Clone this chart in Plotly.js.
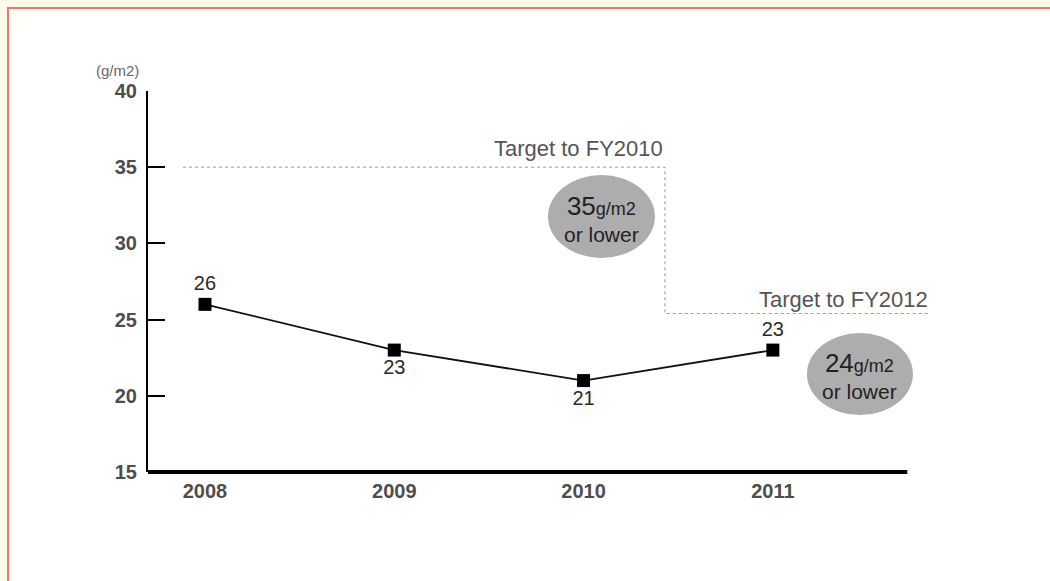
<!DOCTYPE html>
<html>
<head>
<meta charset="utf-8">
<script src="https://cdn.plot.ly/plotly-3.0.1.min.js"></script>
<style>
  html, body { margin: 0; padding: 0; background: #fffbea; }
  #frame {
    position: absolute; left: 7px; top: 7px; right: 0; bottom: 0;
    background: #ffffff;
    border-left: 2px solid #e6786c; border-top: 2px solid #e6786c;
  }
  #chart { position: absolute; left: 0; top: 0; width: 1050px; height: 581px; }
</style>
</head>
<body>
<div id="frame"></div>
<div id="chart"></div>
<script>
// Waste per unit area, by fiscal year
const years = ['2008', '2009', '2010', '2011'];
const values = [26, 23, 21, 23];
const labelSides = ['top center', 'bottom center', 'bottom center', 'top center'];

// Target guide (step line): FY2010 level, then FY2012 level
const targetStepX = [-0.116, 2.43, 2.43, 3.83];
const targetStepY = [35, 35, 25.4, 25.4];
const targetNames = ['Target to FY2010', 'Target to FY2012'];
const targetValues = [35, 24];

const yTicks = [15, 20, 25, 30, 35, 40];
const xIdx = years.map((_, i) => i);

const FONT = 'Liberation Sans, Arial, sans-serif';

const traces = [
  {
    x: targetStepX, y: targetStepY, mode: 'lines', type: 'scatter',
    line: { color: '#999999', width: 1, dash: 'dot' },
    hoverinfo: 'skip', showlegend: false
  },
  {
    x: xIdx, y: values, mode: 'lines+markers+text', type: 'scatter',
    text: values.map(String), textposition: labelSides,
    textfont: { family: FONT, size: 20, color: '#2a2a2a' },
    line: { color: '#111', width: 1.8 },
    marker: { symbol: 'square', size: 13, color: '#000' },
    cliponaxis: false, showlegend: false
  }
];

const bubbleText = v =>
  '<span style="font-size:26px">' + v + '</span><span style="font-size:18px">g/m2</span><br>or lower';

const layout = {
  width: 1050, height: 581,
  margin: { l: 148, r: 110, t: 91, b: 109 },
  paper_bgcolor: 'rgba(0,0,0,0)',
  plot_bgcolor: 'rgba(0,0,0,0)',
  showlegend: false,
  xaxis: {
    range: [-0.3011, 3.883],
    tickvals: xIdx, ticktext: years,
    showgrid: false, zeroline: false, showline: false, ticks: '',
    ticklabelstandoff: 5,
    tickfont: { family: FONT, size: 20, color: '#4d4d4d', weight: 'bold' }
  },
  yaxis: {
    range: [15, 40],
    tickvals: yTicks,
    showgrid: false, zeroline: false,
    showline: true, linecolor: '#000', linewidth: 2,
    ticks: 'inside', ticklen: 17, tickwidth: 2, tickcolor: '#000',
    ticklabelstandoff: 5,
    tickfont: { family: FONT, size: 20, color: '#4d4d4d', weight: 'bold' }
  },
  shapes: [
    // x axis baseline
    { type: 'line', xref: 'x', yref: 'paper', x0: -0.3011, x1: 3.71, y0: 0, y1: 0,
      line: { color: '#000', width: 4 } },
    // target value bubbles
    { type: 'circle', xref: 'x', yref: 'y', x0: 1.812, x1: 2.377, y0: 29.04, y1: 34.49,
      fillcolor: '#adadad', line: { width: 0 } },
    { type: 'circle', xref: 'x', yref: 'y', x0: 3.180, x1: 3.740, y0: 18.74, y1: 24.12,
      fillcolor: '#adadad', line: { width: 0 } }
  ],
  annotations: [
    { xref: 'paper', yref: 'paper', x: -0.039, y: 1.055, xanchor: 'center', yanchor: 'middle',
      text: '(g/m2)', showarrow: false,
      font: { family: FONT, size: 15, color: '#666' } },
    { xref: 'x', yref: 'y', x: 2.43, y: 36.26, xanchor: 'right', yanchor: 'middle',
      text: targetNames[0], showarrow: false,
      font: { family: FONT, size: 22, color: '#555' } },
    { xref: 'x', yref: 'y', x: 3.83, y: 26.29, xanchor: 'right', yanchor: 'middle',
      text: targetNames[1], showarrow: false,
      font: { family: FONT, size: 22, color: '#555' } },
    { xref: 'x', yref: 'y', x: 2.094, y: 31.65, xanchor: 'center', yanchor: 'middle',
      text: bubbleText(targetValues[0]), showarrow: false,
      align: 'center', font: { family: FONT, size: 21, color: '#222' } },
    { xref: 'x', yref: 'y', x: 3.46, y: 21.3, xanchor: 'center', yanchor: 'middle',
      text: bubbleText(targetValues[1]), showarrow: false,
      align: 'center', font: { family: FONT, size: 21, color: '#222' } }
  ]
};

Plotly.newPlot('chart', traces, layout, { staticPlot: true, displayModeBar: false });
</script>
</body>
</html>
